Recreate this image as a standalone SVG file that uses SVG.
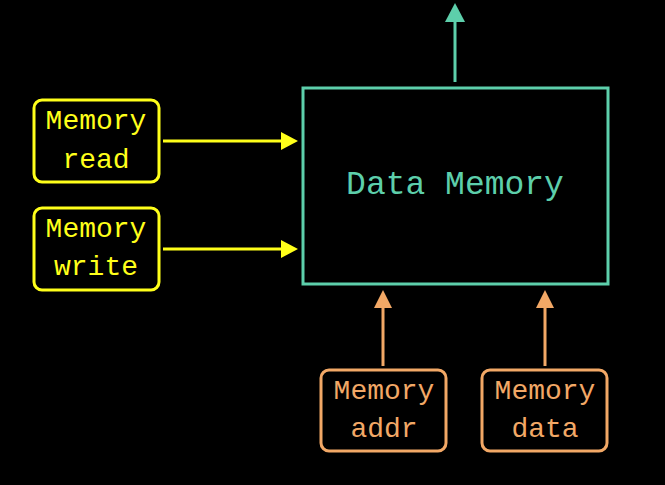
<svg xmlns="http://www.w3.org/2000/svg" width="665" height="485" viewBox="0 0 665 485">
<defs>
<style>
text{font-family:"Liberation Mono","Courier New",monospace;text-anchor:middle}
.y{fill:none;stroke:#ffff1a;stroke-width:3}
.yt{fill:#ffff1a;font-size:28px}
.o{fill:none;stroke:#f2a866;stroke-width:3}
.ot{fill:#f2a866;font-size:28px}
.t{fill:none;stroke:#5dcfab;stroke-width:3}
.tt{fill:#5dcfab;font-size:33px}
</style>
</defs>
<rect width="665" height="485" fill="#000"/>
<g id="connectors">
<line class="y" x1="163" y1="141" x2="282" y2="141"/>
<path d="M281,132 L298,141 L281,150 Z" fill="#ffff1a"/>
<line class="y" x1="163" y1="249" x2="282" y2="249"/>
<path d="M281,240 L298,249 L281,258 Z" fill="#ffff1a"/>
<line class="t" x1="455" y1="82" x2="455" y2="20"/>
<path d="M445,22 L455,3 L465,22 Z" fill="#5dcfab"/>
<line class="o" x1="383" y1="366" x2="383" y2="306"/>
<path d="M374,308 L383,290 L392,308 Z" fill="#f2a866"/>
<line class="o" x1="545" y1="366" x2="545" y2="306"/>
<path d="M536,308 L545,290 L554,308 Z" fill="#f2a866"/>
</g>
<g id="data-memory">
<rect class="t" x="303" y="88" width="305" height="196"/>
<text class="tt" x="455" y="194">Data Memory</text>
</g>
<g id="memory-read">
<rect class="y" x="34" y="100" width="125" height="82" rx="8"/>
<text class="yt" x="96" y="129">Memory</text>
<text class="yt" x="96" y="168">read</text>
</g>
<g id="memory-write">
<rect class="y" x="34" y="208" width="125" height="82" rx="8"/>
<text class="yt" x="96" y="237">Memory</text>
<text class="yt" x="96" y="275">write</text>
</g>
<g id="memory-addr">
<rect class="o" x="321" y="370" width="125" height="81" rx="8"/>
<text class="ot" x="384" y="399">Memory</text>
<text class="ot" x="384" y="437">addr</text>
</g>
<g id="memory-data">
<rect class="o" x="482" y="370" width="125" height="81" rx="8"/>
<text class="ot" x="545" y="399">Memory</text>
<text class="ot" x="545" y="437">data</text>
</g>
</svg>
